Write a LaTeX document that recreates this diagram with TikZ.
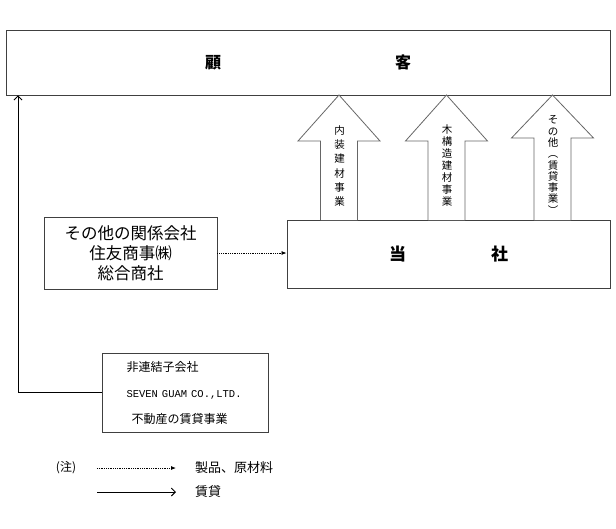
\documentclass[tikz,border=0pt]{standalone}
\usepackage{fontspec}
\setmainfont{Noto Sans CJK JP}
\newfontfamily\monofont{Liberation Mono}
\usetikzlibrary{arrows.meta}

\begin{document}
\begin{tikzpicture}[x=1pt, y=-1pt,
  box/.style = {draw=black!75, line width=0.9pt, inner sep=0pt},
  goods/.style = {densely dotted, line width=0.8pt, -{Latex[length=5pt,width=4pt]}},
  rent/.style = {line width=0.9pt, -{Straight Barb[length=4pt,width=8pt]}},
  bigarrow/.style = {draw=black!60, line width=0.8pt, fill=white},
  vtext/.style = {align=center, inner sep=0pt, font=\fontsize{10.5}{#1}\selectfont}]
  \useasboundingbox (0,0) rectangle (616,528);
  \node[box, minimum width=604, minimum height=65,
    font=\fontsize{16}{18}\selectfont\bfseries] (kokyaku) at (308,62.5)
    {顧\hspace{174pt}客};
  \node[box, minimum width=323, minimum height=68,
    font=\fontsize{17}{19}\selectfont\bfseries] (tosha) at (448.5,254)
    {当\hspace{85pt}社};
  \node[box, minimum width=173, minimum height=72, align=center,
    font=\fontsize{16.5}{20}\selectfont] (kankei) at (130.5,253)
    {その他の関係会社\hspace{10pt}\\住友商事㈱\\総合商社};
  \node[box, minimum width=166, minimum height=79, align=left, text width=117pt,
    font=\fontsize{12}{26}\selectfont] (hirenketsu) at (185,392.5)
    {非連結子会社\\{\monofont\fontsize{10.5}{26}\selectfont SEVEN GUAM CO.,LTD.}\\
     \hspace{5pt}不動産の賃貸事業};
  \foreach \cx/\wy in {339/141, 446.5/141, 552.5/138}
    \draw[bigarrow] (\cx-18.5,220) -- (\cx-18.5,\wy) -- (\cx-41,\wy)
      -- (\cx,95) -- (\cx+41,\wy) -- (\cx+18.5,\wy) -- (\cx+18.5,220);
  \node[vtext=14.2] (naiso) at (339.5,166) {内\\装\\建\\材\\事\\業};
  \node[vtext=12] (mokkozo) at (447,166) {木\\構\\造\\建\\材\\事\\業};
  \node[vtext=11.3] (sonota) at (553,165) {そ\\の\\他\\︵\\賃\\貸\\事\\業\\︶};
  \draw[goods] (kankei.east) -- (kankei.east -| tosha.west);
  \coordinate (turn) at (18,392.5);
  \draw[rent] (hirenketsu.west) -- (turn) -- (turn |- kokyaku.south);
  % legend
  \node[font=\fontsize{12}{14}\selectfont] (chu) at (66,468) {(注)};
  \coordinate (goodsfrom) at (97,468);
  \coordinate (goodsto) at (176,468);
  \coordinate (rentfrom) at (97,492);
  \coordinate (rentto) at (176,492);
  \draw[goods] (goodsfrom) -- (goodsto);
  \draw[rent] (rentfrom) -- (rentto);
  \node[anchor=west, inner sep=0pt, font=\fontsize{13}{15}\selectfont] (seihin)
    at (195,468) {製品、原材料};
  \node[anchor=west, inner sep=0pt, font=\fontsize{13}{15}\selectfont] (chintai)
    at (195,492) {賃貸};
\end{tikzpicture}
\end{document}
